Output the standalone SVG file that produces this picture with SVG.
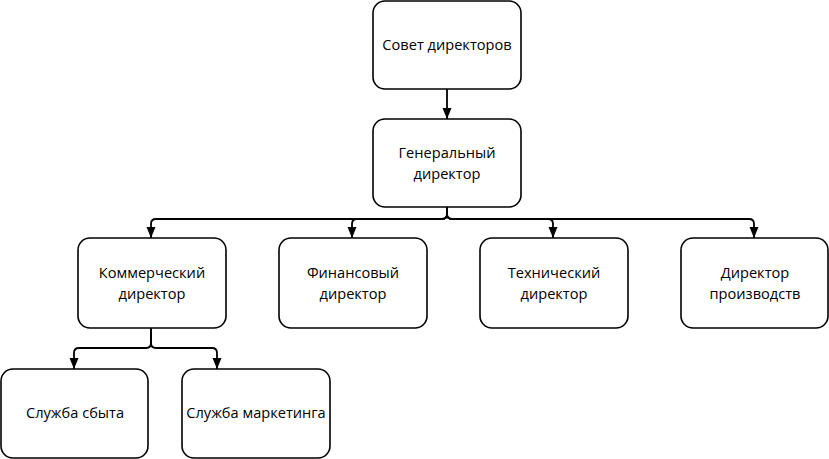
<svg xmlns="http://www.w3.org/2000/svg" width="829" height="459" viewBox="0 0 829 459">
<style>
.box{fill:#fff;stroke:#000;stroke-width:1.6}
.t{font-family:"Open Sans","Liberation Sans",sans-serif;font-size:14.6px;fill:#000;text-anchor:middle}
.c{fill:none;stroke:#000;stroke-width:1.8}
</style>
<defs>
<marker id="a" markerWidth="10" markerHeight="11" refX="5" refY="11" orient="0" markerUnits="userSpaceOnUse" viewBox="0 0 10 11">
<path d="M0.5,0 L9.5,0 L5,11 Z" fill="#000"/>
</marker>
</defs>
<g id="connectors">
<path class="c" d="M447,89 V119" marker-end="url(#a)"/>
<path class="c" d="M447,207 V214 Q447,219 442,219 H156 Q151,219 151,224 V238" marker-end="url(#a)"/>
<path class="c" d="M447,207 V214 Q447,219 442,219 H357 Q352,219 352,224 V238" marker-end="url(#a)"/>
<path class="c" d="M447,207 V214 Q447,219 452,219 H548 Q553,219 553,224 V238" marker-end="url(#a)"/>
<path class="c" d="M447,207 V214 Q447,219 452,219 H749 Q754,219 754,224 V238" marker-end="url(#a)"/>
<path class="c" d="M151,328 V343 Q151,348 146,348 H79 Q74,348 74,353 V369" marker-end="url(#a)"/>
<path class="c" d="M151,328 V343 Q151,348 156,348 H212 Q217,348 217,353 V369" marker-end="url(#a)"/>
</g>
<g id="n1"><rect class="box" x="373" y="1" width="148" height="88" rx="12"/><text class="t" x="447" y="50">Совет директоров</text></g>
<g id="n2"><rect class="box" x="373" y="119" width="148" height="88" rx="12"/><text class="t" x="447" y="158">Генеральный</text><text class="t" x="447" y="179">директор</text></g>
<g id="n3"><rect class="box" x="78" y="238" width="148" height="90" rx="12"/><text class="t" x="152" y="278">Коммерческий</text><text class="t" x="152" y="299">директор</text></g>
<g id="n4"><rect class="box" x="279" y="238" width="148" height="90" rx="12"/><text class="t" x="353" y="278">Финансовый</text><text class="t" x="353" y="299">директор</text></g>
<g id="n5"><rect class="box" x="480" y="238" width="148" height="90" rx="12"/><text class="t" x="554" y="278">Технический</text><text class="t" x="554" y="299">директор</text></g>
<g id="n6"><rect class="box" x="681" y="238" width="147" height="90" rx="12"/><text class="t" x="755" y="278">Директор</text><text class="t" x="755" y="299">производств</text></g>
<g id="n7"><rect class="box" x="1" y="369" width="147" height="89" rx="12"/><text class="t" x="75" y="418">Служба сбыта</text></g>
<g id="n8"><rect class="box" x="182" y="369" width="148" height="89" rx="12"/><text class="t" x="256" y="418">Служба маркетинга</text></g>
</svg>
